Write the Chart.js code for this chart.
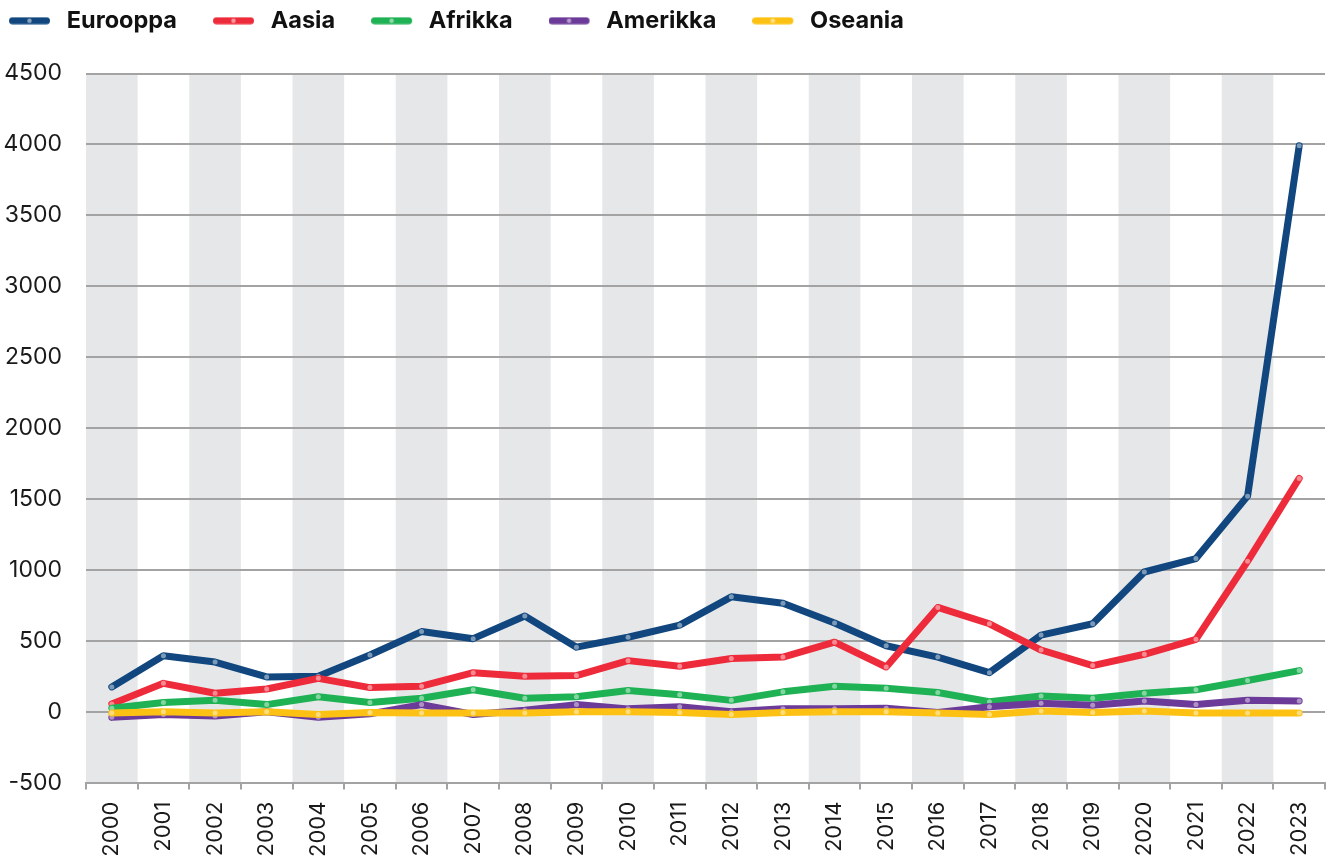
<!DOCTYPE html>
<html>
<head>
<meta charset="utf-8">
<script src="https://cdn.jsdelivr.net/npm/chart.js@4.4.1/dist/chart.umd.min.js"></script>
<style>
  html, body { margin: 0; padding: 0; background: #fff; }
  #wrap { width: 1331px; height: 860px; }
</style>
</head>
<body>
<div id="wrap"><canvas id="kaavio" width="1331" height="860"></canvas></div>
<script>
var vuodet = ['2000', '2001', '2002', '2003', '2004', '2005', '2006', '2007', '2008', '2009', '2010', '2011',
              '2012', '2013', '2014', '2015', '2016', '2017', '2018', '2019', '2020', '2021', '2022', '2023'];

var eurooppa = [175, 395, 350, 245, 250, 400, 565, 515, 675, 455, 525, 610, 810, 765, 625, 465, 385, 275, 540, 620, 985, 1080, 1520, 3990];
var aasia    = [55, 200, 130, 160, 235, 170, 180, 275, 250, 255, 360, 320, 375, 385, 490, 315, 735, 620, 435, 325, 405, 510, 1060, 1645];
var afrikka  = [25, 65, 80, 50, 105, 65, 95, 155, 95, 105, 150, 120, 80, 140, 180, 165, 135, 70, 110, 95, 130, 155, 220, 290];
var amerikka = [-40, -20, -30, 0, -40, -15, 50, -20, 10, 50, 20, 35, 0, 20, 20, 25, -5, 35, 60, 45, 75, 50, 80, 75];
var oseania  = [-10, 0, -10, 0, -20, -5, -10, -10, -10, 0, 0, -5, -20, -5, 0, 0, -10, -20, 5, -5, 5, -10, -10, -10];

var varit = ['#11477e', '#ee2b3b', '#1fb255', '#6c3a98', '#fdc113'];
var tekstiVari = '#1a1a1a';
var viivaVari = '#a3a3a3';

// legend swatch: thick rounded line with a light dot
function merkki(vari) {
    var c = document.createElement('canvas');
    c.width = 46;
    c.height = 8;
    var g = c.getContext('2d');
    g.strokeStyle = vari;
    g.lineWidth = 7;
    g.lineCap = 'round';
    g.beginPath();
    g.moveTo(3.5, 4);
    g.lineTo(37.5, 4);
    g.stroke();
    g.fillStyle = 'rgba(255,255,255,0.5)';
    g.beginPath();
    g.arc(20.5, 4, 2.3, 0, Math.PI * 2);
    g.fill();
    return c;
}
var merkit = varit.map(merkki);

function sarja(nimi, arvot, i) {
    return {
        label: nimi,
        data: arvot,
        borderColor: varit[i],
        backgroundColor: varit[i],
        borderWidth: 7,
        borderCapStyle: 'round',
        borderJoinStyle: 'round',
        tension: 0,
        pointRadius: 2.5,
        pointBorderWidth: 0,
        pointBackgroundColor: 'rgba(255,255,255,0.45)',
        order: 5 - i
    };
}

// grey bands behind every other year
var raidat = {
    id: 'raidat',
    beforeDraw: function (chart) {
        var x = chart.scales.x, a = chart.chartArea, g = chart.ctx;
        var puoli = (x.getPixelForValue(1) - x.getPixelForValue(0)) / 2;
        g.save();
        g.fillStyle = '#e6e7e9';
        for (var i = 0; i < vuodet.length; i += 2) {
            var k = x.getPixelForValue(i);
            g.fillRect(k - puoli, a.top, puoli * 2, a.bottom - a.top);
        }
        g.restore();
    }
};

// extra room under the legend
var legendaVali = {
    id: 'legendaVali',
    beforeLayout: function (chart) {
        var l = chart.legend;
        if (!l || l._vali) return;
        var fit = l.fit;
        l.fit = function () {
            fit.call(this);
            this.height += 31;
        };
        l._vali = true;
    }
};

var ctx = document.getElementById('kaavio').getContext('2d');
var kaavio = new Chart(ctx, {
    type: 'line',
    data: {
        labels: vuodet,
        datasets: [
            sarja('Eurooppa', eurooppa, 0),
            sarja('Aasia', aasia, 1),
            sarja('Afrikka', afrikka, 2),
            sarja('Amerikka', amerikka, 3),
            sarja('Oseania', oseania, 4)
        ]
    },
    options: {
        responsive: false,
        animation: false,
        layout: { padding: { left: -27, top: -27, right: 6, bottom: -9 } },
        plugins: {
            tooltip: { enabled: false },
            legend: {
                position: 'top',
                align: 'start',
                labels: {
                    usePointStyle: true,
                    pointStyleWidth: 46,
                    padding: 36,
                    color: '#111',
                    font: { family: 'Inter', size: 23.5, weight: 'bold' },
                    generateLabels: function (chart) {
                        return chart.data.datasets.map(function (ds, i) {
                            return {
                                text: ds.label,
                                pointStyle: merkit[i],
                                fillStyle: ds.borderColor,
                                strokeStyle: ds.borderColor,
                                lineWidth: 0,
                                fontColor: '#111',
                                hidden: !chart.isDatasetVisible(i),
                                datasetIndex: i
                            };
                        });
                    }
                }
            }
        },
        scales: {
            x: {
                offset: true,
                grid: { offset: true, drawOnChartArea: false, color: viivaVari, lineWidth: 2, tickLength: 7 },
                border: { color: viivaVari, width: 2 },
                ticks: {
                    autoSkip: false,
                    minRotation: 90,
                    maxRotation: 90,
                    padding: 12,
                    color: tekstiVari,
                    font: { family: 'Inter', size: 22 }
                },
                afterFit: function (s) { s.paddingLeft = 0; s.paddingRight = 0; }
            },
            y: {
                min: -500,
                max: 4500,
                grid: { color: viivaVari, lineWidth: 2, drawTicks: false },
                border: { display: false },
                ticks: {
                    stepSize: 500,
                    padding: 24,
                    color: tekstiVari,
                    font: { family: 'Inter', size: 23 },
                    callback: function (v) { return String(v); }
                },
                afterFit: function (s) { s.width = 113; }
            }
        }
    },
    plugins: [raidat, legendaVali]
});
</script>
</body>
</html>
